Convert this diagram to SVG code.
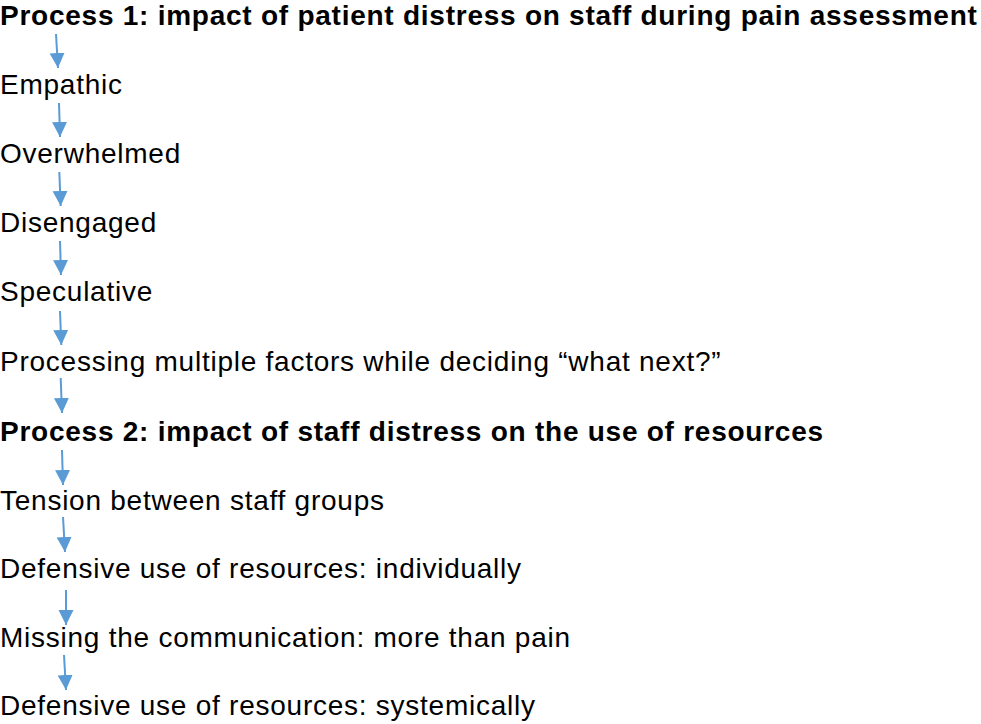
<svg xmlns="http://www.w3.org/2000/svg" width="981" height="724" viewBox="0 0 981 724">
<defs>
<style>
text{font-family:"Liberation Sans",Arial,Helvetica,sans-serif;font-size:28px;letter-spacing:0.75px;fill:#000}
.b{font-weight:bold}
.c line{stroke:#5B9BD5;stroke-width:2;marker-end:url(#ah)}
</style>
<marker id="ah" markerUnits="userSpaceOnUse" markerWidth="16" markerHeight="16" viewBox="0 0 16 16" refX="15" refY="8" orient="auto">
<path d="M0,0.5 L15,8 L0,15.5 Z" fill="#5B9BD5"/>
</marker>
</defs>
<rect width="981" height="724" fill="#fff"/>
<g class="c" id="connectors">
<line x1="56" y1="34" x2="58" y2="68"/>
<line x1="59" y1="103" x2="60" y2="137"/>
<line x1="59.3" y1="172" x2="60.7" y2="206"/>
<line x1="60" y1="241" x2="61" y2="275"/>
<line x1="60" y1="311" x2="61.3" y2="345"/>
<line x1="60.7" y1="378" x2="62" y2="413"/>
<line x1="62" y1="450" x2="63" y2="485"/>
<line x1="63" y1="517" x2="65" y2="552"/>
<line x1="66" y1="590" x2="66" y2="625"/>
<line x1="64" y1="655" x2="66" y2="690"/>
</g>
<g id="n1"><text class="b" x="0" y="25">Process 1: impact of patient distress on staff during pain assessment</text></g>
<g id="n2"><text x="0" y="94">Empathic</text></g>
<g id="n3"><text x="0" y="163">Overwhelmed</text></g>
<g id="n4"><text x="0" y="232">Disengaged</text></g>
<g id="n5"><text x="0" y="301">Speculative</text></g>
<g id="n6"><text x="0" y="371">Processing multiple factors while deciding “what next?”</text></g>
<g id="n7"><text class="b" x="0" y="441">Process 2: impact of staff distress on the use of resources</text></g>
<g id="n8"><text x="0" y="510">Tension between staff groups</text></g>
<g id="n9"><text x="0" y="578">Defensive use of resources: individually</text></g>
<g id="n10"><text x="0" y="647">Missing the communication: more than pain</text></g>
<g id="n11"><text x="0" y="715">Defensive use of resources: systemically</text></g>
</svg>
